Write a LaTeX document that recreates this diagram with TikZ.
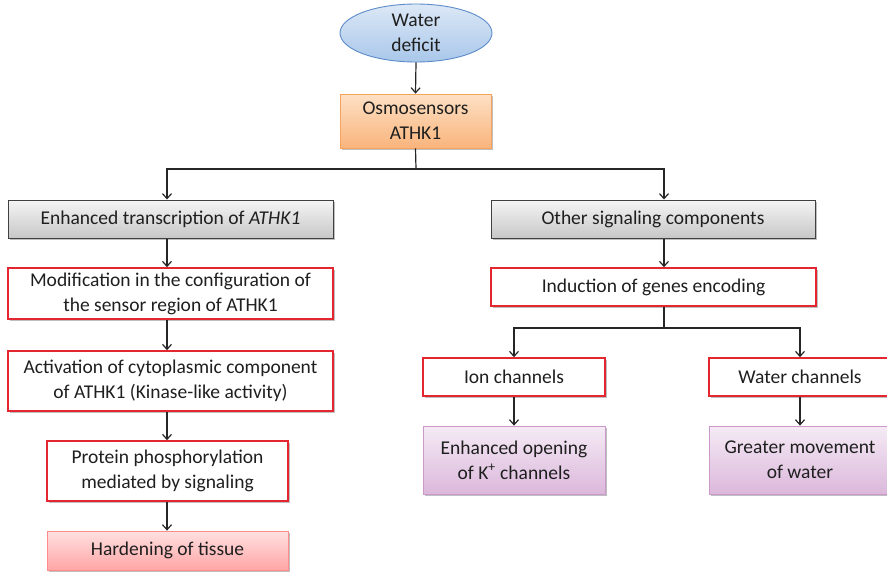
\documentclass[tikz,border=0pt]{standalone}
\usepackage{fontspec}
\setmainfont{Carlito}
\usetikzlibrary{shapes.geometric,arrows.meta,shadows}
\definecolor{redb}{HTML}{E3262F}
\definecolor{linec}{HTML}{262626}
\definecolor{blt}{HTML}{DCE8F6}
\definecolor{blb}{HTML}{A9C7EA}
\definecolor{bld}{HTML}{5B8BC9}
\definecolor{ort}{HTML}{FDE0C4}
\definecolor{orb}{HTML}{F9B47C}
\definecolor{ord}{HTML}{F7A35C}
\tikzset{
  txt/.style={align=center, inner sep=0pt, text=black!88, font=\fontsize{19.5}{25}\selectfont},
  base/.style={txt, rectangle,
    drop shadow={shadow xshift=1.5pt, shadow yshift=-1.5pt, opacity=0.25, fill=black}},
  graybox/.style={base, draw=black!75, line width=1pt, top color=black!4, bottom color=black!22},
  redbox/.style={base, draw=redb, line width=1.6pt, fill=white},
  orangebox/.style={base, draw=ord, line width=0.8pt, top color=ort, bottom color=orb},
  pinkbox/.style={base, draw=red!45, line width=0.8pt, top color=red!12, bottom color=red!35},
  purplebox/.style={base, draw=violet!40, line width=0.8pt, top color=violet!8, bottom color=violet!28},
  arr/.style={draw=linec, line width=1.2pt, -{Straight Barb[length=5pt,width=9pt]}},
  ln/.style={draw=linec, line width=1.2pt},
}
\begin{document}
\begin{tikzpicture}[x=1pt,y=-1pt]
\useasboundingbox (0,0) rectangle (887,571);
\node[txt, ellipse, draw=bld, line width=0.9pt, top color=blt, bottom color=blb,
      minimum width=152pt, minimum height=58pt] (wd) at (416,33) {Water\\deficit};
\node[orangebox, minimum width=151pt, minimum height=54pt] (osmo) at (415.5,121) {Osmosensors\\ATHK1};
\node[graybox, minimum width=325pt, minimum height=38pt] (enh) at (170.5,219) {Enhanced transcription of \textit{ATHK1}};
\node[graybox, minimum width=324pt, minimum height=38pt] (other) at (653,219) {Other signaling components};
\node[redbox, minimum width=325pt, minimum height=51pt] (mod) at (170.5,293.5) {Modification in the configuration of\\the sensor region of ATHK1};
\node[redbox, minimum width=325pt, minimum height=60pt] (act) at (170.5,381) {Activation of cytoplasmic component\\of ATHK1 (Kinase-like activity)};
\node[redbox, minimum width=241pt, minimum height=60pt] (prot) at (167.5,471) {Protein phosphorylation\\mediated by signaling};
\node[pinkbox, minimum width=241pt, minimum height=39pt] (hard) at (167.5,550.5) {Hardening of tissue};
\node[redbox, minimum width=325pt, minimum height=38pt] (ind) at (653.5,287) {Induction of genes encoding};
\node[redbox, minimum width=182pt, minimum height=38pt] (ion) at (514,377) {Ion channels};
\node[redbox, minimum width=182pt, minimum height=38pt] (wat) at (800,377) {Water channels};
\node[purplebox, minimum width=182pt, minimum height=68pt] (enho) at (514,460) {Enhanced opening\\of K\textsuperscript{+} channels};
\node[purplebox, minimum width=182pt, minimum height=68pt] (great) at (800,460) {Greater movement\\of water};
\coordinate (lc) at (167,0);
\coordinate (rc) at (664,0);
\coordinate (br) at (416,169);
\coordinate (br2) at (664,328);
\draw[arr] (wd.south) -- (osmo.north);
\draw[ln] (osmo.south) -- (br);
\draw[arr] (br) -| (enh.north -| lc);
\draw[arr] (br) -| (other.north -| rc);
\draw[arr] (enh.south -| lc) -- (mod.north -| lc);
\draw[arr] (mod.south -| lc) -- (act.north -| lc);
\draw[arr] (act.south -| lc) -- (prot.north -| lc);
\draw[arr] (prot.south -| lc) -- (hard.north -| lc);
\draw[arr] (other.south -| rc) -- (ind.north -| rc);
\draw[ln] (ind.south -| rc) -- (br2);
\draw[arr] (br2) -| (ion.north);
\draw[arr] (br2) -| (wat.north);
\draw[arr] (ion.south) -- (enho.north);
\draw[arr] (wat.south) -- (great.north);
\end{tikzpicture}
\end{document}
